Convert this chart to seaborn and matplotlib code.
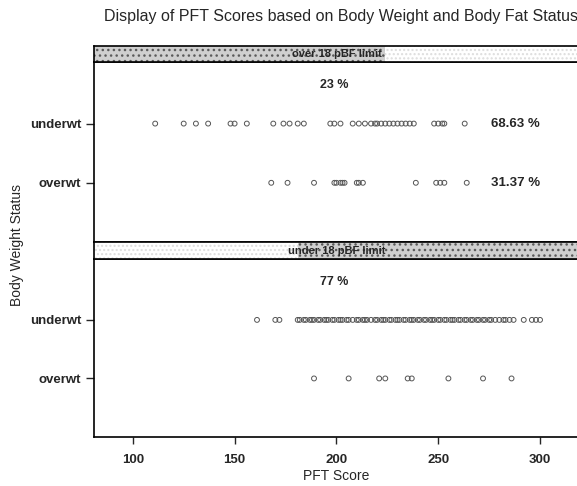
import matplotlib
matplotlib.use("Agg")
import matplotlib.pyplot as plt
import matplotlib.patches as mpatches
import seaborn as sns
import pandas as pd

# PFT scores, per body-fat panel and weight status
over_underwt = [111, 125, 131, 137, 148, 150, 156, 169, 174, 177, 181, 184,
                197, 199, 202, 208, 211, 214, 217, 219, 220, 222, 224, 226,
                228, 230, 232, 234, 236, 238, 248, 250, 252, 253, 263]
over_overwt = [168, 176, 189, 199, 200, 202, 203, 204, 210, 211, 213,
               239, 249, 251, 253, 264]
under_underwt = [161, 170, 172, 181, 182, 184, 185, 187, 188, 189, 191, 192,
                 194, 195, 196, 198, 199, 201, 202, 203, 205, 206, 208, 210,
                 211, 213, 214, 215, 217, 219, 220, 222, 223, 224, 226, 227,
                 229, 230, 231, 233, 234, 236, 237, 238, 240, 241, 243, 244,
                 246, 247, 248, 250, 251, 253, 254, 256, 257, 258, 260, 261,
                 263, 264, 266, 267, 269, 270, 272, 273, 275, 276, 278, 280,
                 282, 283, 285, 287, 292, 296, 298, 300]
under_overwt = [189, 206, 221, 224, 235, 237, 255, 272, 286]

panels = ["over 18 pBF limit", "under 18 pBF limit"]
status = ["underwt", "overwt"]
panel_pct = ["23 %", "77 %"]
status_pct = [["68.63 %", "31.37 %"], ["", ""]]

rows = []
for p, vals in [(panels[0], (over_underwt, over_overwt)),
                (panels[1], (under_underwt, under_overwt))]:
    for s, v in zip(status, vals):
        rows += [{"panel": p, "status": s, "score": x} for x in v]
df = pd.DataFrame(rows)

sns.set_style("white")
plt.rcParams["font.family"] = ["Liberation Sans", "DejaVu Sans"]

fig = plt.figure(figsize=(5.77, 4.86), dpi=100)
H = 486.0
left = 94.3 / 577
width = 1.003 - left
xlim = (81.1, 319.0)

# (strip top px, strip bottom px, panel bottom px)
layout = [(46, 62, 242), (242.5, 259, 437)]
shade = [(0.0, 0.6), (0.42, 1.0)]

for i, p in enumerate(panels):
    s_top, s_bot, p_bot = layout[i]
    ax = fig.add_axes([left, 1 - p_bot / H, width, (p_bot - s_bot) / H])
    sub = df[df["panel"] == p]
    sns.stripplot(data=sub, x="score", y="status", order=status, ax=ax,
                  jitter=False, orient="h", color="k", facecolor="none",
                  edgecolor="#555555", linewidth=0.7, size=3.5, marker="o")
    ax.set_xlim(*xlim)
    ax.set_ylim(2.0, -1.04)
    ax.set_xlabel("")
    ax.set_ylabel("")
    ax.set_yticks([0, 1])
    ax.set_yticklabels(status, fontsize=9.5, fontweight="bold")
    ax.tick_params(axis="y", direction="out", length=6, width=1, pad=3.5,
                   left=True)
    if i == 0:
        ax.set_xticks([])
    else:
        ax.set_xticks([100, 150, 200, 250, 300])
        ax.set_xticklabels(["100", "150", "200", "250", "300"],
                           fontsize=9.5, fontweight="bold")
        ax.tick_params(axis="x", direction="out", length=5, width=1, pad=7,
                       bottom=True)
    for sp in ax.spines.values():
        sp.set_visible(True)
        sp.set_color("k")
        sp.set_linewidth(1.2)
    ax.text(198.8, -0.65, panel_pct[i], ha="center", va="center",
            fontsize=9, fontweight="bold")
    for j, t in enumerate(status_pct[i]):
        if t:
            ax.text(275.7, j, t, ha="left", va="center", fontsize=9.5,
                    fontweight="bold")

    # strip with stippled shading
    sax = fig.add_axes([left, 1 - s_bot / H, width, (s_bot - s_top) / H])
    sax.set_xlim(0, 1)
    sax.set_ylim(0, 1)
    sax.set_xticks([])
    sax.set_yticks([])
    a, b = shade[i]
    sax.add_patch(mpatches.Rectangle((0, 0), 1, 1, facecolor="white",
                                     edgecolor="#dddddd", hatch="....",
                                     linewidth=0))
    sax.add_patch(mpatches.Rectangle((a, 0), b - a, 1, facecolor="#cfcfcf",
                                     edgecolor="#5a5a5a", hatch="...",
                                     linewidth=0))
    sax.text(0.5, 0.5, p, ha="center", va="center", fontsize=8,
             fontweight="bold")
    for sp in sax.spines.values():
        sp.set_visible(True)
        sp.set_color("k")
        sp.set_linewidth(1.2)

fig.text(0.591, 1 - 17 / H,
         "Display of PFT Scores based on Body Weight and Body Fat Status",
         ha="center", va="center", fontsize=11.5)
fig.text((94.3 + 578) / 2 / 577, 1 - 476 / H, "PFT Score", ha="center",
         va="center", fontsize=10)
fig.text(16.7 / 577, 1 - 245 / H, "Body Weight Status", ha="center",
         va="center", rotation=90, fontsize=10)

fig.savefig("out.png", dpi=100)
